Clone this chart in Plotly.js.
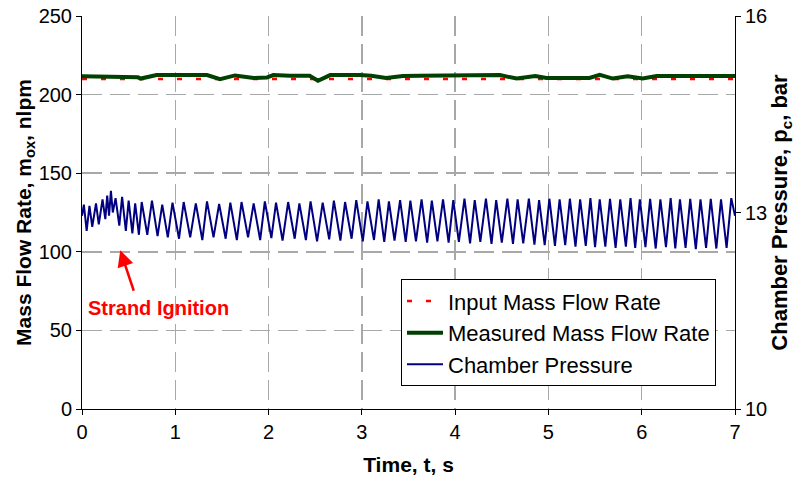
<!DOCTYPE html>
<html>
<head>
<meta charset="utf-8">
<script src="https://cdn.plot.ly/plotly-3.0.1.min.js"></script>
<style>html,body{margin:0;padding:0;background:#fff;}#chart{width:798px;height:486px;}</style>
</head>
<body>
<div id="chart"></div>
<script>
// Input mass flow rate (nlpm)
const inputTime = [0, 7];
const inputFlow = [210, 210];

// Measured mass flow rate (nlpm)
const measTime = [0.00, 0.15, 0.20, 0.60, 0.63, 0.72, 0.80, 1.34, 1.48, 1.64, 1.84, 1.98, 2.05, 2.23, 2.44, 2.53, 2.66, 2.98, 3.10, 3.26, 3.44, 3.62, 4.48, 4.66, 4.86, 4.98, 5.44, 5.55, 5.69, 5.85, 6.01, 6.16, 7.00];
const measFlow = [211.6, 211.6, 211.0, 211.0, 210.2, 211.2, 212.4, 212.4, 209.8, 212.2, 210.6, 210.8, 212.4, 212.0, 212.0, 208.8, 212.4, 212.4, 212.0, 210.6, 211.8, 212.0, 212.4, 210.2, 211.8, 210.6, 210.6, 212.6, 210.2, 211.6, 210.2, 211.8, 211.8];

// Chamber pressure (bar)
const presTime = [
  0.00, 0.02, 0.05, 0.08, 0.11, 0.15, 0.18, 0.22, 0.25, 0.27, 0.29, 0.31, 0.33, 0.36, 0.40, 0.43, 0.47, 0.50, 0.54, 0.57, 0.61, 0.64, 0.70, 0.75, 0.81, 0.86, 0.92, 0.97,
  1.04, 1.09, 1.16, 1.22, 1.29, 1.34, 1.41, 1.47, 1.54, 1.59, 1.66, 1.71, 1.78, 1.84, 1.91, 1.96, 2.03, 2.08, 2.15, 2.21, 2.28, 2.33, 2.40, 2.45, 2.52, 2.58, 2.65, 2.70, 2.77, 2.82, 2.89, 2.94,
  3.01, 3.06, 3.13, 3.18, 3.24, 3.29, 3.35, 3.41, 3.47, 3.52, 3.58, 3.64, 3.70, 3.75, 3.81, 3.87, 3.93, 3.98, 4.04, 4.10, 4.16, 4.21, 4.27, 4.33, 4.39, 4.44, 4.50, 4.56, 4.62, 4.67, 4.73, 4.79, 4.85, 4.90,
  4.96, 5.01, 5.07, 5.12, 5.18, 5.23, 5.29, 5.34, 5.40, 5.45, 5.50, 5.55, 5.61, 5.66, 5.72, 5.77, 5.83, 5.88, 5.93, 5.98, 6.04, 6.09, 6.15, 6.20, 6.26, 6.31, 6.36, 6.41, 6.47, 6.52, 6.58, 6.63, 6.69, 6.74, 6.80, 6.85, 6.91, 6.96, 7.00
];
const presBar = [
  12.95, 13.12, 12.72, 13.10, 12.78, 13.14, 12.82, 13.20, 12.90, 13.26, 12.95, 13.33, 13.00, 13.22, 12.80, 13.24, 12.72, 13.18, 12.68, 13.14, 12.66, 13.16, 12.66, 13.18, 12.64, 13.12, 12.62, 13.15,
  12.60, 13.16, 12.62, 13.14, 12.58, 13.17, 12.62, 13.13, 12.60, 13.15, 12.58, 13.16, 12.62, 13.14, 12.58, 13.17, 12.61, 13.15, 12.57, 13.16, 12.60, 13.14, 12.58, 13.17, 12.56, 13.15, 12.59, 13.18, 12.57, 13.16, 12.60, 13.19,
  12.56, 13.17, 12.58, 13.20, 12.55, 13.17, 12.57, 13.19, 12.55, 13.18, 12.56, 13.20, 12.54, 13.18, 12.56, 13.20, 12.54, 13.19, 12.55, 13.21, 12.53, 13.19, 12.55, 13.21, 12.52, 13.19, 12.54, 13.21, 12.52, 13.20, 12.53, 13.21, 12.51, 13.19,
  12.50, 13.21, 12.49, 13.20, 12.50, 13.21, 12.48, 13.20, 12.49, 13.22, 12.47, 13.20, 12.48, 13.21, 12.46, 13.20, 12.48, 13.22, 12.46, 13.20, 12.47, 13.21, 12.45, 13.20, 12.47, 13.22, 12.45, 13.20, 12.46, 13.21, 12.44, 13.20, 12.46, 13.21, 12.45, 13.20, 12.46, 13.22, 12.95
];

const xTicks = [0, 1, 2, 3, 4, 5, 6, 7];
const yTicks = [0, 50, 100, 150, 200, 250];
const y2Ticks = [10, 13, 16];

const FONT = 'Liberation Sans, Arial, sans-serif';

const traces = [
  {
    x: inputTime, y: inputFlow, type: 'scatter', mode: 'lines',
    name: 'Input Mass Flow Rate',
    line: {color: '#ff0000', width: 2.5, dash: '5px,14px'},
    yaxis: 'y'
  },
  {
    x: measTime, y: measFlow, type: 'scatter', mode: 'lines',
    name: 'Measured Mass Flow Rate',
    line: {color: '#004000', width: 4},
    yaxis: 'y'
  },
  {
    x: presTime, y: presBar, type: 'scatter', mode: 'lines',
    name: 'Chamber Pressure',
    line: {color: '#000080', width: 2},
    yaxis: 'y2'
  }
];

const layout = {
  width: 798, height: 486,
  margin: {l: 82, r: 63, t: 16, b: 77},
  paper_bgcolor: '#ffffff', plot_bgcolor: '#ffffff',
  font: {family: FONT, size: 20, color: '#000'},
  showlegend: true,
  legend: {
    x: 0.4885, y: 0.33, xanchor: 'left', yanchor: 'top',
    bgcolor: '#ffffff', bordercolor: '#000000', borderwidth: 1,
    font: {family: FONT, size: 22, color: '#000'},
    itemwidth: 36,
    tracegroupgap: 0
  },
  xaxis: {
    range: [0, 7], tickvals: xTicks, ticktext: xTicks.map(String),
    showline: true, linecolor: '#000', linewidth: 1,
    ticks: 'outside', ticklen: 5, tickcolor: '#000',
    showgrid: true, gridcolor: '#a8a8a8', gridwidth: 1.5, griddash: '20px,8px',
    zeroline: false,
    tickfont: {family: FONT, size: 20},
    title: {text: '<b>Time, t, s</b>', font: {family: FONT, size: 21}, standoff: 15}
  },
  yaxis: {
    range: [0, 250], tickvals: yTicks, ticktext: yTicks.map(String),
    showline: true, linecolor: '#000', linewidth: 1,
    ticks: 'outside', ticklen: 5, tickcolor: '#000',
    showgrid: true, gridcolor: '#a8a8a8', gridwidth: 1.5, griddash: '20px,8px',
    zeroline: false,
    tickfont: {family: FONT, size: 20},
    title: {text: '<b>Mass Flow Rate, m<sub>ox</sub>, nlpm</b>', font: {family: FONT, size: 21}, standoff: 1}
  },
  yaxis2: {
    range: [10, 16], tickvals: y2Ticks, ticktext: y2Ticks.map(String),
    overlaying: 'y', side: 'right',
    showline: true, linecolor: '#000', linewidth: 1,
    ticks: 'outside', ticklen: 5, tickcolor: '#000',
    showgrid: false, zeroline: false,
    tickfont: {family: FONT, size: 20},
    title: {text: '<b>Chamber Pressure, p<sub>c</sub>, bar</b>', font: {family: FONT, size: 22}, standoff: 5}
  },
  annotations: [
    {
      x: 0.41, y: 101, xref: 'x', yref: 'y',
      text: '', showarrow: true,
      ax: 14, ay: 42, axref: 'pixel', ayref: 'pixel',
      arrowhead: 2, arrowsize: 1.3, arrowwidth: 2.5, arrowcolor: '#ff0000'
    },
    {
      x: 0.815, y: 64, xref: 'x', yref: 'y',
      text: '<b>Strand Ignition</b>', showarrow: false,
      font: {family: FONT, size: 20, color: '#ff0000'}
    }
  ]
};

Plotly.newPlot('chart', traces, layout, {displayModeBar: false, staticPlot: true});
</script>
</body>
</html>
